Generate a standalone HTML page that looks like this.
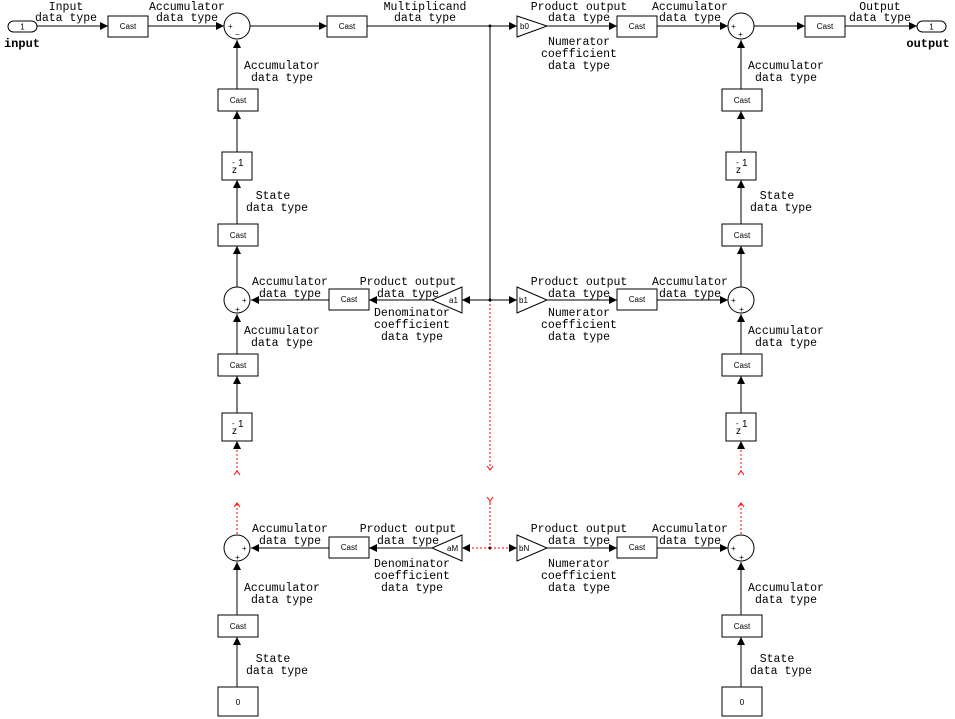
<!DOCTYPE html>
<html><head><meta charset="utf-8"><style>
html,body{margin:0;padding:0;background:#fff;}
svg{display:block;}
text{font-family:"Liberation Mono",monospace;font-size:11.5px;fill:#000;}
.s{font-family:"Liberation Sans",sans-serif;font-size:8px;}
.z{font-family:"Liberation Sans",sans-serif;font-size:10px;}
.b{font-weight:bold;font-size:12px;}
.l{stroke:#000;stroke-width:1;fill:none;}
.r{stroke:#f00;stroke-width:1;stroke-dasharray:2,2;fill:none;}
.rc{stroke:#f00;stroke-width:1;fill:none;}
rect,circle,polygon.t{fill:#fff;stroke:#000;stroke-width:1;}
circle.d{fill:#000;stroke:none;}
</style></head><body>
<svg width="955" height="719" viewBox="0 0 955 719" xmlns="http://www.w3.org/2000/svg">
<defs>
<marker id="a" markerWidth="10" markerHeight="10" refX="8" refY="4" orient="auto" markerUnits="userSpaceOnUse">
<polygon points="0,0 8,4 0,8" fill="#000"/>
</marker>
</defs>

<!-- TOP ROW -->
<rect x="8" y="21" width="29" height="11" rx="5.5"/>
<text x="22.5" y="29.5" class="s" text-anchor="middle">1</text>
<text x="22" y="47" class="b" text-anchor="middle">input</text>
<line class="l" x1="37" y1="26" x2="108" y2="26" marker-end="url(#a)"/>
<rect x="108" y="16" width="40" height="21"/><text x="128" y="29" class="s" text-anchor="middle">Cast</text>
<line class="l" x1="148" y1="26" x2="224" y2="26" marker-end="url(#a)"/>
<circle cx="237" cy="26" r="13"/>
<text x="228" y="29" class="s">+</text><text x="235" y="37" class="s">−</text>
<line class="l" x1="250" y1="26" x2="327" y2="26" marker-end="url(#a)"/>
<rect x="327" y="16" width="40" height="21"/><text x="347" y="29" class="s" text-anchor="middle">Cast</text>
<line class="l" x1="367" y1="26" x2="517" y2="26" marker-end="url(#a)"/>
<circle class="d" cx="490" cy="26" r="1.5"/>
<polygon class="t" points="517,16 547,26 517,37"/><text x="520" y="29" class="s">b0</text>
<line class="l" x1="547" y1="26" x2="617" y2="26" marker-end="url(#a)"/>
<rect x="617" y="16" width="40" height="21"/><text x="637" y="29" class="s" text-anchor="middle">Cast</text>
<line class="l" x1="657" y1="26" x2="728" y2="26" marker-end="url(#a)"/>
<circle cx="741" cy="26" r="13"/>
<text x="731" y="29" class="s">+</text><text x="738" y="37" class="s">+</text>
<line class="l" x1="754" y1="26" x2="805" y2="26" marker-end="url(#a)"/>
<rect x="805" y="16" width="40" height="21"/><text x="825" y="29" class="s" text-anchor="middle">Cast</text>
<line class="l" x1="845" y1="26" x2="917" y2="26" marker-end="url(#a)"/>
<rect x="917" y="21" width="29" height="11" rx="5.5"/>
<text x="931.5" y="29.5" class="s" text-anchor="middle">1</text>
<text x="928" y="47" class="b" text-anchor="middle">output</text>

<text x="66" y="10" text-anchor="middle">Input</text><text x="66" y="21" text-anchor="middle">data type</text>
<text x="187" y="10" text-anchor="middle">Accumulator</text><text x="187" y="21" text-anchor="middle">data type</text>
<text x="425" y="10" text-anchor="middle">Multiplicand</text><text x="425" y="21" text-anchor="middle">data type</text>
<text x="579" y="10" text-anchor="middle">Product output</text><text x="579" y="21" text-anchor="middle">data type</text>
<text x="579" y="45" text-anchor="middle">Numerator</text><text x="579" y="57" text-anchor="middle">coefficient</text><text x="579" y="69" text-anchor="middle">data type</text>
<text x="690" y="10" text-anchor="middle">Accumulator</text><text x="690" y="21" text-anchor="middle">data type</text>
<text x="880" y="10" text-anchor="middle">Output</text><text x="880" y="21" text-anchor="middle">data type</text>

<!-- center vertical -->
<line class="l" x1="490" y1="26" x2="490" y2="300"/>
<line class="r" x1="490" y1="300" x2="490" y2="468"/>
<polyline class="rc" points="487,466 490,470 493,466"/>
<polyline class="rc" points="487,497 490,501 490,503 490,501 493,497"/>
<line class="r" x1="490" y1="503" x2="490" y2="548"/>

<!-- MIDDLE ROW -->
<line class="l" x1="329" y1="300" x2="251" y2="300" marker-end="url(#a)"/>
<rect x="329" y="289" width="40" height="21"/><text x="349" y="302" class="s" text-anchor="middle">Cast</text>
<line class="l" x1="432" y1="300" x2="369" y2="300" marker-end="url(#a)"/>
<polygon class="t" points="432,300 462,287 462,313"/><text x="449" y="303" class="s">a1</text>
<line class="l" x1="490" y1="300" x2="462" y2="300" marker-end="url(#a)"/>
<circle class="d" cx="490" cy="300" r="1.5"/>
<line class="l" x1="490" y1="300" x2="517" y2="300" marker-end="url(#a)"/>
<polygon class="t" points="517,287 547,300 517,313"/><text x="519" y="303" class="s">b1</text>
<line class="l" x1="547" y1="300" x2="617" y2="300" marker-end="url(#a)"/>
<rect x="617" y="289" width="40" height="21"/><text x="637" y="302" class="s" text-anchor="middle">Cast</text>
<line class="l" x1="657" y1="300" x2="728" y2="300" marker-end="url(#a)"/>
<text x="290" y="285" text-anchor="middle">Accumulator</text><text x="290" y="297" text-anchor="middle">data type</text>
<text x="408" y="285" text-anchor="middle">Product output</text><text x="408" y="297" text-anchor="middle">data type</text>
<text x="412" y="316" text-anchor="middle">Denominator</text><text x="412" y="328" text-anchor="middle">coefficient</text><text x="412" y="340" text-anchor="middle">data type</text>
<text x="579" y="285" text-anchor="middle">Product output</text><text x="579" y="297" text-anchor="middle">data type</text>
<text x="579" y="316" text-anchor="middle">Numerator</text><text x="579" y="328" text-anchor="middle">coefficient</text><text x="579" y="340" text-anchor="middle">data type</text>
<text x="690" y="285" text-anchor="middle">Accumulator</text><text x="690" y="297" text-anchor="middle">data type</text>

<!-- BOTTOM ROW -->
<line class="l" x1="329" y1="548" x2="251" y2="548" marker-end="url(#a)"/>
<rect x="329" y="537" width="40" height="21"/><text x="349" y="550" class="s" text-anchor="middle">Cast</text>
<line class="l" x1="432" y1="548" x2="369" y2="548" marker-end="url(#a)"/>
<polygon class="t" points="432,548 462,535 462,561"/><text x="447" y="551" class="s">aM</text>
<line class="r" x1="490" y1="548" x2="470" y2="548"/>
<polygon points="462,548 470,544 470,552" fill="#000"/>
<circle class="d" cx="490" cy="548" r="1.5"/>
<line class="r" x1="490" y1="548" x2="510" y2="548"/>
<polygon points="517,548 509,544 509,552" fill="#000"/>
<polygon class="t" points="517,535 547,548 517,561"/><text x="519" y="551" class="s">bN</text>
<line class="l" x1="547" y1="548" x2="617" y2="548" marker-end="url(#a)"/>
<rect x="617" y="537" width="40" height="21"/><text x="637" y="550" class="s" text-anchor="middle">Cast</text>
<line class="l" x1="657" y1="548" x2="728" y2="548" marker-end="url(#a)"/>
<text x="290" y="532" text-anchor="middle">Accumulator</text><text x="290" y="544" text-anchor="middle">data type</text>
<text x="408" y="532" text-anchor="middle">Product output</text><text x="408" y="544" text-anchor="middle">data type</text>
<text x="412" y="567" text-anchor="middle">Denominator</text><text x="412" y="579" text-anchor="middle">coefficient</text><text x="412" y="591" text-anchor="middle">data type</text>
<text x="579" y="532" text-anchor="middle">Product output</text><text x="579" y="544" text-anchor="middle">data type</text>
<text x="579" y="567" text-anchor="middle">Numerator</text><text x="579" y="579" text-anchor="middle">coefficient</text><text x="579" y="591" text-anchor="middle">data type</text>
<text x="690" y="532" text-anchor="middle">Accumulator</text><text x="690" y="544" text-anchor="middle">data type</text>

<!-- LEFT COLUMN (cx=237) -->
<g>
<line class="l" x1="237" y1="89" x2="237" y2="40" marker-end="url(#a)"/>
<rect x="218" y="89" width="40" height="22"/><text x="238" y="103" class="s" text-anchor="middle">Cast</text>
<line class="l" x1="237" y1="152" x2="237" y2="111" marker-end="url(#a)"/>
<rect x="222" y="152" width="30" height="28"/><text x="232" y="173" class="z">z</text><text x="232" y="165" class="s">-</text><text x="238" y="166" class="z">1</text>
<line class="l" x1="237" y1="224" x2="237" y2="180" marker-end="url(#a)"/>
<rect x="218" y="224" width="40" height="22"/><text x="238" y="238" class="s" text-anchor="middle">Cast</text>
<line class="l" x1="237" y1="287" x2="237" y2="246" marker-end="url(#a)"/>
<circle cx="237" cy="300" r="13"/>
<line class="l" x1="237" y1="354" x2="237" y2="314" marker-end="url(#a)"/>
<rect x="218" y="354" width="40" height="22"/><text x="238" y="368" class="s" text-anchor="middle">Cast</text>
<line class="l" x1="237" y1="413" x2="237" y2="376" marker-end="url(#a)"/>
<rect x="222" y="413" width="30" height="28"/><text x="232" y="434" class="z">z</text><text x="232" y="426" class="s">-</text><text x="238" y="427" class="z">1</text>
<line class="r" x1="237" y1="472" x2="237" y2="449"/>
<polygon points="237,441 233,449 241,449" fill="#000"/>
<polyline class="rc" points="234,475 237,471 240,475"/>
<polyline class="rc" points="234,507 237,503 240,507"/>
<line class="r" x1="237" y1="504" x2="237" y2="535"/>
<circle cx="237" cy="548" r="13"/>
<line class="l" x1="237" y1="615" x2="237" y2="562" marker-end="url(#a)"/>
<rect x="218" y="615" width="40" height="22"/><text x="238" y="629" class="s" text-anchor="middle">Cast</text>
<line class="l" x1="237" y1="687" x2="237" y2="637" marker-end="url(#a)"/>
<rect x="218" y="687" width="40" height="29"/><text x="238" y="705" class="s" text-anchor="middle">0</text>
</g>
<text x="242" y="303" class="s">+</text><text x="235" y="312" class="s">+</text>
<text x="242" y="551" class="s">+</text><text x="235" y="560" class="s">+</text>
<text x="282" y="69" text-anchor="middle">Accumulator</text><text x="282" y="81" text-anchor="middle">data type</text>
<text x="273" y="199" text-anchor="middle">State</text><text x="277" y="211" text-anchor="middle">data type</text>
<text x="282" y="334" text-anchor="middle">Accumulator</text><text x="282" y="346" text-anchor="middle">data type</text>
<text x="282" y="591" text-anchor="middle">Accumulator</text><text x="282" y="603" text-anchor="middle">data type</text>
<text x="273" y="662" text-anchor="middle">State</text><text x="277" y="674" text-anchor="middle">data type</text>

<!-- RIGHT COLUMN (cx=741) -->
<g transform="translate(504,0)">
<line class="l" x1="237" y1="89" x2="237" y2="40" marker-end="url(#a)"/>
<rect x="218" y="89" width="40" height="22"/><text x="238" y="103" class="s" text-anchor="middle">Cast</text>
<line class="l" x1="237" y1="152" x2="237" y2="111" marker-end="url(#a)"/>
<rect x="222" y="152" width="30" height="28"/><text x="232" y="173" class="z">z</text><text x="232" y="165" class="s">-</text><text x="238" y="166" class="z">1</text>
<line class="l" x1="237" y1="224" x2="237" y2="180" marker-end="url(#a)"/>
<rect x="218" y="224" width="40" height="22"/><text x="238" y="238" class="s" text-anchor="middle">Cast</text>
<line class="l" x1="237" y1="287" x2="237" y2="246" marker-end="url(#a)"/>
<circle cx="237" cy="300" r="13"/>
<line class="l" x1="237" y1="354" x2="237" y2="314" marker-end="url(#a)"/>
<rect x="218" y="354" width="40" height="22"/><text x="238" y="368" class="s" text-anchor="middle">Cast</text>
<line class="l" x1="237" y1="413" x2="237" y2="376" marker-end="url(#a)"/>
<rect x="222" y="413" width="30" height="28"/><text x="232" y="434" class="z">z</text><text x="232" y="426" class="s">-</text><text x="238" y="427" class="z">1</text>
<line class="r" x1="237" y1="472" x2="237" y2="449"/>
<polygon points="237,441 233,449 241,449" fill="#000"/>
<polyline class="rc" points="234,475 237,471 240,475"/>
<polyline class="rc" points="234,507 237,503 240,507"/>
<line class="r" x1="237" y1="504" x2="237" y2="535"/>
<circle cx="237" cy="548" r="13"/>
<line class="l" x1="237" y1="615" x2="237" y2="562" marker-end="url(#a)"/>
<rect x="218" y="615" width="40" height="22"/><text x="238" y="629" class="s" text-anchor="middle">Cast</text>
<line class="l" x1="237" y1="687" x2="237" y2="637" marker-end="url(#a)"/>
<rect x="218" y="687" width="40" height="29"/><text x="238" y="705" class="s" text-anchor="middle">0</text>
<text x="227" y="303" class="s">+</text><text x="235" y="312" class="s">+</text>
<text x="227" y="551" class="s">+</text><text x="235" y="560" class="s">+</text>
<text x="282" y="69" text-anchor="middle">Accumulator</text><text x="282" y="81" text-anchor="middle">data type</text>
<text x="273" y="199" text-anchor="middle">State</text><text x="277" y="211" text-anchor="middle">data type</text>
<text x="282" y="334" text-anchor="middle">Accumulator</text><text x="282" y="346" text-anchor="middle">data type</text>
<text x="282" y="591" text-anchor="middle">Accumulator</text><text x="282" y="603" text-anchor="middle">data type</text>
<text x="273" y="662" text-anchor="middle">State</text><text x="277" y="674" text-anchor="middle">data type</text>
</g>
</svg>
</body></html>
